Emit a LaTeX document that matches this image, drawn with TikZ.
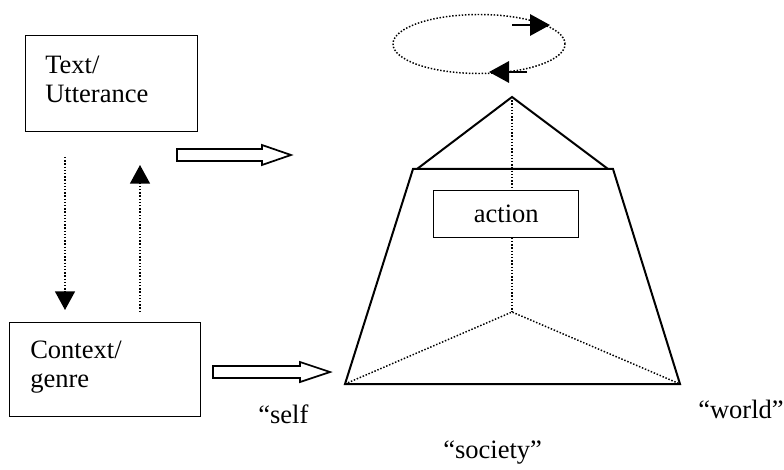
\documentclass[tikz,border=0pt]{standalone}
\usepackage{fontspec}
\setmainfont{Liberation Serif}
\usetikzlibrary{arrows.meta,shapes.geometric}
\begin{document}
\begin{tikzpicture}[x=0.75pt,y=-0.75pt,
  boxline/.style={draw, line width=1.1pt, inner sep=0pt, anchor=north west, fill=white},
  solidline/.style={line width=1.5pt, line join=miter},
  dotline/.style={line width=1.1pt, dash pattern=on 1.1pt off 1.3pt},
  tri/.style={-{Triangle[length=14pt,width=15pt]}},
  lbl/.style={font=\fontsize{19.9}{22}\selectfont, inner sep=0pt, anchor=base west},
  hollow/.style={draw, line width=1.3pt, fill=white, line join=miter},
  ]
\useasboundingbox (0,0) rectangle (784,470);

% left boxes
\node[boxline, minimum width=129pt, minimum height=72pt] (tbox) at (25,35) {};
\node[lbl] (t1) at (45,74) {Text/};
\node[lbl] (t2) at (45,103) {Utterance};

\node[boxline, minimum width=143pt, minimum height=70.5pt] (cbox) at (9,322) {};
\node[lbl] (c1) at (30,358) {Context/};
\node[lbl] (c2) at (30,387) {genre};

% dotted arrows between boxes
\coordinate (d1s) at (65,157);
\coordinate (d1e) at (65,310);
\coordinate (u1s) at (140,312);
\coordinate (u1e) at (140,165);
\draw[dotline, tri] (d1s) -- (d1e);
\draw[dotline, tri] (u1s) -- (u1e);

% hollow arrows
\draw[hollow] (177,149) -- (262,149) -- (262,145) -- (291,155) -- (262,165) -- (262,161) -- (177,161) -- cycle;
\draw[hollow] (213,366) -- (300,366) -- (300,362) -- (330,372) -- (300,382) -- (300,378) -- (213,378) -- cycle;

% rotating ellipse
\node[draw, dotline, ellipse, minimum width=129pt, minimum height=44.25pt, inner sep=0pt] (ell) at (479,44) {};
\coordinate (e1s) at (512,25);
\coordinate (e1e) at (550,25);
\coordinate (e2s) at (527,72);
\coordinate (e2e) at (489,72);
\draw[line width=1.6pt, -{Triangle[length=15pt,width=16pt]}] (e1s) -- (e1e);
\draw[line width=1.6pt, -{Triangle[length=15pt,width=16pt]}] (e2s) -- (e2e);

% pyramid
\coordinate (A) at (512,97);
\coordinate (TL) at (413,169);
\coordinate (TR) at (613,169);
\coordinate (TLi) at (417,169);
\coordinate (TRi) at (608,169);
\coordinate (BL) at (345,384);
\coordinate (BR) at (680,384);
\coordinate (C) at (512,312);
\draw[dotline] (A) -- (C);
\draw[dotline] (BL) -- (C) -- (BR);
\draw[solidline] (TLi) -- (A) -- (TRi);
\draw[solidline] (TL) -- (TR) -- (BR) -- (BL) -- cycle;

\node[boxline, minimum width=108.75pt, minimum height=35.25pt] (abox) at (433,190) {};
\node[font=\fontsize{19.9}{22}\selectfont, inner sep=0pt] (atext) at (abox.center) {action};

% labels
\node[lbl] (self) at (258,423) {“self};
\node[lbl] (world) at (698,418) {“world”};
\node[lbl] (soc) at (443,458) {“society”};
\end{tikzpicture}
\end{document}
